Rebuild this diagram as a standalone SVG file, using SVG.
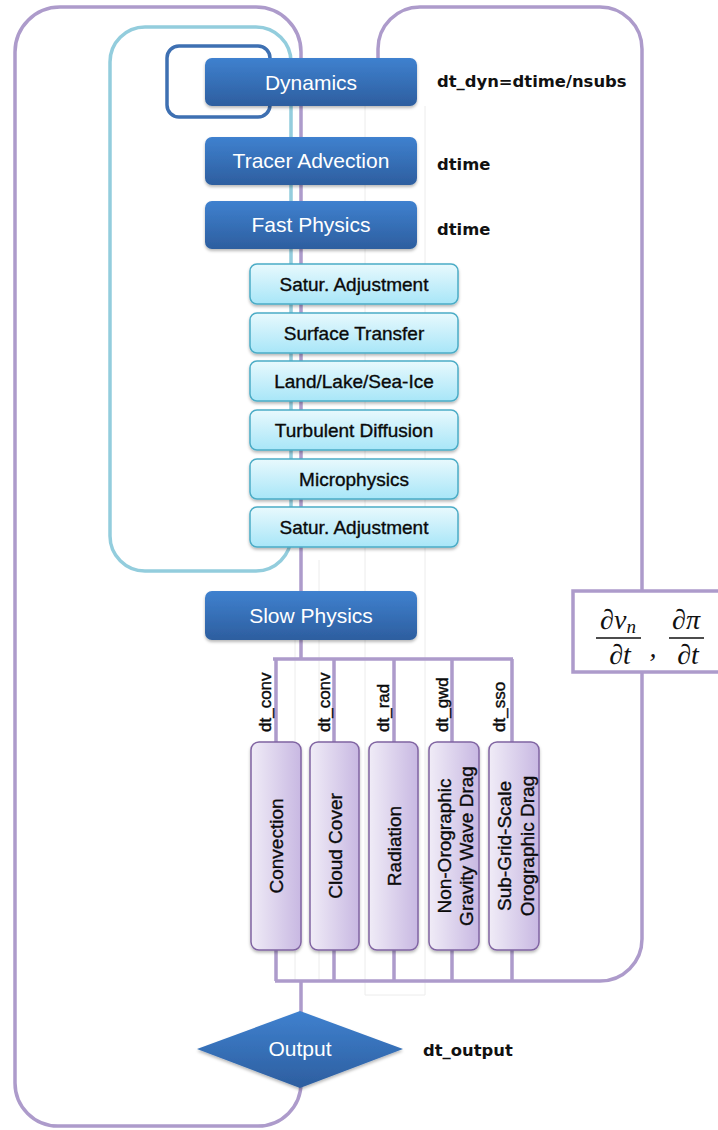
<svg xmlns="http://www.w3.org/2000/svg" width="718" height="1130" viewBox="0 0 718 1130">
  <defs>
    <linearGradient id="gBlue" x1="0" y1="0" x2="0" y2="1">
      <stop offset="0" stop-color="#3f81cf"/>
      <stop offset="1" stop-color="#2d5e9f"/>
    </linearGradient>
    <linearGradient id="gCyan" x1="0" y1="0" x2="0" y2="1">
      <stop offset="0" stop-color="#e8f9fd"/>
      <stop offset="1" stop-color="#a8e6f8"/>
    </linearGradient>
    <linearGradient id="gPurple" x1="0" y1="0" x2="1" y2="0">
      <stop offset="0" stop-color="#f0ecf7"/>
      <stop offset="1" stop-color="#c8b8e2"/>
    </linearGradient>
    <filter id="shadow" x="-10%" y="-10%" width="120%" height="140%">
      <feDropShadow dx="0" dy="2" stdDeviation="1.8" flood-color="#000" flood-opacity="0.28"/>
    </filter>
  </defs>
  <style>
    .grid { stroke: #ececec; stroke-width: 1; fill: none; }
    .flow { stroke: #ad9bcb; stroke-width: 3.5; fill: none; }
    .fastloop { stroke: #93cddd; stroke-width: 3.5; fill: none; }
    .dynloop { stroke: #3e70b2; stroke-width: 3.5; fill: none; }
    .blue { fill: url(#gBlue); filter: url(#shadow); }
    .cyan { fill: url(#gCyan); stroke: #4bacc6; stroke-width: 1.5; filter: url(#shadow); }
    .purple { fill: url(#gPurple); stroke: #8064a2; stroke-width: 1.5; filter: url(#shadow); }
    .wt { font-family: "Liberation Sans", Arial, sans-serif; font-size: 21px; fill: #ffffff; text-anchor: middle; }
    .ct { font-family: "Liberation Sans", Arial, sans-serif; font-size: 19px; fill: #0a0a0a; stroke: #0a0a0a; stroke-width: 0.35; text-anchor: middle; }
    .pt { font-family: "Liberation Sans", Arial, sans-serif; font-size: 19px; fill: #0a0a0a; stroke: #0a0a0a; stroke-width: 0.35; text-anchor: middle; dominant-baseline: central; }
    .dt { font-family: "Liberation Sans", Arial, sans-serif; font-size: 17px; fill: #0a0a0a; stroke: #0a0a0a; stroke-width: 0.4; }
    .lbl { font-family: "DejaVu Sans", sans-serif; font-weight: bold; font-size: 16.4px; fill: #111111; }
    .math { font-family: "Liberation Serif", "DejaVu Serif", serif; font-style: italic; font-size: 28px; fill: #111111; text-anchor: middle; }
  </style>

  <rect x="0" y="0" width="718" height="1130" fill="#ffffff"/>

  <g id="connectors">
    <!-- faint table gridlines -->
    <path class="grid" d="M365,106 V995 H425 V106 M295,640 V981 M319,560 V981"/>
    <!-- main time loop -->
    <path class="flow" d="M301,659 V52 A45,45 0 0 0 256,7 H60 A45,45 0 0 0 15,52 V1083 A43,43 0 0 0 58,1126 H258 A43,43 0 0 0 301,1083 V981"/>
    <!-- tendency feedback loop into dynamics -->
    <path class="flow" d="M275,981 H600 A42,42 0 0 0 642,939 V49 A42,42 0 0 0 600,7 H420 A42,42 0 0 0 378,49 V85"/>
    <!-- fast physics loop -->
    <rect class="fastloop" x="110" y="27" width="181" height="544" rx="35" ry="35"/>
    <!-- dynamics substep loop -->
    <rect class="dynloop" x="167" y="46" width="103" height="71" rx="12" ry="12"/>
    <!-- slow physics split bus -->
    <path class="flow" d="M273,659 H513 M276,659 V742 M334,659 V742 M394,659 V742 M452,659 V742 M512,659 V742"/>
    <!-- slow physics merge bus -->
    <path class="flow" d="M276,950 V981 M334,950 V981 M394,950 V981 M452,950 V981 M512,950 V981"/>
  </g>

  <g id="tendencies">
    <rect x="573" y="591" width="160" height="81" fill="#ffffff" stroke="#ad9bcb" stroke-width="3.5"/>
    <text class="math" x="618" y="629">∂v<tspan dy="4" font-size="19">n</tspan></text>
    <line x1="596" y1="638" x2="641" y2="638" stroke="#111" stroke-width="1.5"/>
    <text class="math" x="620" y="664">∂t</text>
    <text class="math" x="653" y="657">,</text>
    <text class="math" x="686" y="629">∂π</text>
    <line x1="669" y1="638" x2="704" y2="638" stroke="#111" stroke-width="1.5"/>
    <text class="math" x="688" y="664">∂t</text>
  </g>

  <g id="dynamics">
    <rect class="blue" x="205" y="58" width="212" height="48" rx="7" ry="7"/>
    <text class="wt" x="311" y="90">Dynamics</text>
    <text class="lbl" x="437" y="87">dt_dyn=dtime/nsubs</text>
  </g>
  <g id="tracer-advection">
    <rect class="blue" x="205" y="137" width="212" height="48" rx="7" ry="7"/>
    <text class="wt" x="311" y="168">Tracer Advection</text>
    <text class="lbl" x="437" y="170">dtime</text>
  </g>
  <g id="fast-physics">
    <rect class="blue" x="205" y="201" width="212" height="48" rx="7" ry="7"/>
    <text class="wt" x="311" y="232">Fast Physics</text>
    <text class="lbl" x="437" y="235">dtime</text>
  </g>

  <g id="satur-adjustment-1">
    <rect class="cyan" x="250" y="264" width="208" height="40" rx="7" ry="7"/>
    <text class="ct" x="354" y="291">Satur. Adjustment</text>
  </g>
  <g id="surface-transfer">
    <rect class="cyan" x="250" y="313" width="208" height="40" rx="7" ry="7"/>
    <text class="ct" x="354" y="340">Surface Transfer</text>
  </g>
  <g id="land-lake-sea-ice">
    <rect class="cyan" x="250" y="361" width="208" height="40" rx="7" ry="7"/>
    <text class="ct" x="354" y="388">Land/Lake/Sea-Ice</text>
  </g>
  <g id="turbulent-diffusion">
    <rect class="cyan" x="250" y="410" width="208" height="40" rx="7" ry="7"/>
    <text class="ct" x="354" y="437">Turbulent Diffusion</text>
  </g>
  <g id="microphysics">
    <rect class="cyan" x="250" y="459" width="208" height="40" rx="7" ry="7"/>
    <text class="ct" x="354" y="486">Microphysics</text>
  </g>
  <g id="satur-adjustment-2">
    <rect class="cyan" x="250" y="507" width="208" height="40" rx="7" ry="7"/>
    <text class="ct" x="354" y="534">Satur. Adjustment</text>
  </g>

  <g id="slow-physics">
    <rect class="blue" x="205" y="591" width="212" height="49" rx="7" ry="7"/>
    <text class="wt" x="311" y="623">Slow Physics</text>
  </g>

  <g id="convection">
    <text class="dt" transform="translate(271,732) rotate(-90)">dt_conv</text>
    <rect class="purple" x="251" y="742" width="50" height="208" rx="8" ry="8"/>
    <text class="pt" transform="translate(276,846) rotate(-90)">Convection</text>
  </g>
  <g id="cloud-cover">
    <text class="dt" transform="translate(330,732) rotate(-90)">dt_conv</text>
    <rect class="purple" x="310" y="742" width="49" height="208" rx="8" ry="8"/>
    <text class="pt" transform="translate(335,846) rotate(-90)">Cloud Cover</text>
  </g>
  <g id="radiation">
    <text class="dt" transform="translate(389,732) rotate(-90)">dt_rad</text>
    <rect class="purple" x="369" y="742" width="49" height="208" rx="8" ry="8"/>
    <text class="pt" transform="translate(394,846) rotate(-90)">Radiation</text>
  </g>
  <g id="non-orographic-gwd">
    <text class="dt" transform="translate(448,732) rotate(-90)">dt_gwd</text>
    <rect class="purple" x="429" y="742" width="50" height="208" rx="8" ry="8"/>
    <text class="pt" transform="translate(444,846) rotate(-90)">Non-Orographic</text>
    <text class="pt" transform="translate(466,846) rotate(-90)">Gravity Wave Drag</text>
  </g>
  <g id="sso-drag">
    <text class="dt" transform="translate(505,732) rotate(-90)">dt_sso</text>
    <rect class="purple" x="489" y="742" width="50" height="208" rx="8" ry="8"/>
    <text class="pt" transform="translate(504,846) rotate(-90)">Sub-Grid-Scale</text>
    <text class="pt" transform="translate(527,846) rotate(-90)">Orographic Drag</text>
  </g>

  <g id="output">
    <polygon class="blue" points="197,1049 300,1011 403,1049 300,1088"/>
    <text class="wt" x="300" y="1056">Output</text>
    <text class="lbl" x="423" y="1056">dt_output</text>
  </g>
</svg>
